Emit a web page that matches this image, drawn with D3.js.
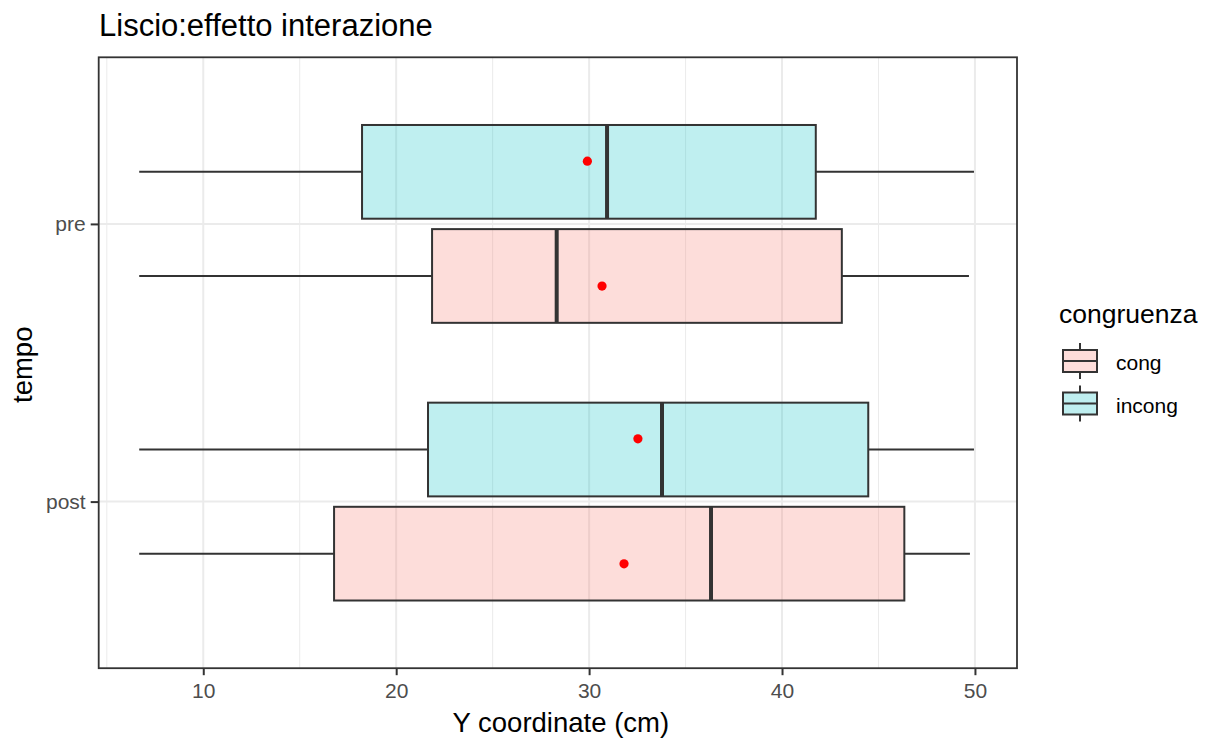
<!DOCTYPE html>
<html>
<head>
<meta charset="utf-8">
<script src="https://cdn.jsdelivr.net/npm/d3@7"></script>
<style>
body{margin:0;background:#fff;font-family:"Liberation Sans",Arial,sans-serif;}
</style>
</head>
<body>
<script>
// data
const tempi=["post","pre"];
const gruppi=["cong","incong"];
const colori=["#F8766D","#00BFC4"];
// [tempo, gruppo, min, q1, mediana, q3, max, media]
const boxes=[
  ["pre","incong",6.68,18.23,30.93,41.75,49.95,29.91],
  ["pre","cong",6.68,21.86,28.32,43.10,49.69,30.67],
  ["post","incong",6.68,21.65,33.78,44.47,49.95,32.53],
  ["post","cong",6.68,16.78,36.32,46.34,49.74,31.81]
];
const xTicks=[10,20,30,40,50];
const xMinor=[5,15,25,35,45];

const W=1207,H=740;
const m={left:98.7,right:1017,top:57.3,bottom:668.2};
const FONT="'Liberation Sans',Arial,sans-serif";

const svg=d3.select("body").append("svg")
  .attr("width",W).attr("height",H)
  .style("font-family",FONT);

const x=d3.scaleLinear().domain([4.58,52.18]).range([m.left,m.right]);
// discrete positions 1..2 with 0.6 expansion, like ggplot
const yPos=d3.scaleLinear().domain([0.4,2.6]).range([m.bottom,m.top]);
const pos=t=>tempi.indexOf(t)+1;
const unit=yPos(1)-yPos(2);
const boxH=0.3375*unit;
const dodge=g=>gruppi.indexOf(g)===0? -0.1875 : 0.1875;
const meanDodge=g=>gruppi.indexOf(g)===0? -0.224 : 0.226;
const fill=d3.scaleOrdinal().domain(gruppi).range(colori);

// grid
const grid=svg.append("g");
grid.selectAll(".minor").data(xMinor).enter().append("line")
  .attr("x1",d=>x(d)).attr("x2",d=>x(d)).attr("y1",m.top).attr("y2",m.bottom)
  .attr("stroke","#EBEBEB").attr("stroke-width",1);
grid.selectAll(".major").data(xTicks).enter().append("line")
  .attr("x1",d=>x(d)).attr("x2",d=>x(d)).attr("y1",m.top).attr("y2",m.bottom)
  .attr("stroke","#EBEBEB").attr("stroke-width",2);
grid.selectAll(".hmaj").data(tempi).enter().append("line")
  .attr("x1",m.left).attr("x2",m.right).attr("y1",d=>yPos(pos(d))).attr("y2",d=>yPos(pos(d)))
  .attr("stroke","#EBEBEB").attr("stroke-width",2);

// boxes
const g=svg.append("g").selectAll("g").data(boxes).enter().append("g")
  .attr("transform",d=>"translate(0,"+yPos(pos(d[0])+dodge(d[1]))+")");
g.append("line").attr("x1",d=>x(d[2])).attr("x2",d=>x(d[3]))
  .attr("stroke","#333").attr("stroke-width",2);
g.append("line").attr("x1",d=>x(d[5])).attr("x2",d=>x(d[6]))
  .attr("stroke","#333").attr("stroke-width",2);
g.append("rect").attr("x",d=>x(d[3])).attr("width",d=>x(d[5])-x(d[3]))
  .attr("y",-boxH/2).attr("height",boxH)
  .attr("fill",d=>fill(d[1])).attr("fill-opacity",0.25)
  .attr("stroke","#333").attr("stroke-width",2);
g.append("line").attr("x1",d=>x(d[4])).attr("x2",d=>x(d[4]))
  .attr("y1",-boxH/2).attr("y2",boxH/2)
  .attr("stroke","#333").attr("stroke-width",4);

// means
svg.append("g").selectAll("circle").data(boxes).enter().append("circle")
  .attr("cx",d=>x(d[7])).attr("cy",d=>yPos(pos(d[0])+meanDodge(d[1])))
  .attr("r",4.6).attr("fill","red");

// panel border
svg.append("rect").attr("x",m.left).attr("y",m.top)
  .attr("width",m.right-m.left).attr("height",m.bottom-m.top)
  .attr("fill","none").attr("stroke","#333").attr("stroke-width",1.8);

// axes
const xAxis=svg.append("g").attr("transform","translate(0,"+m.bottom+")")
  .call(d3.axisBottom(x).tickValues(xTicks).tickSize(7).tickPadding(8));
const yAxis=svg.append("g").attr("transform","translate("+m.left+",0)")
  .call(d3.axisLeft(yPos).tickValues([1,2]).tickFormat(d=>tempi[d-1]).tickSize(8).tickPadding(5));
[xAxis,yAxis].forEach(a=>{
  a.select(".domain").remove();
  a.selectAll(".tick line").attr("stroke","#333").attr("stroke-width",2);
  a.selectAll(".tick text").attr("fill","#4D4D4D").style("font-size","21px")
    .style("font-family",FONT);
});

// titles
svg.append("text").attr("x",99).attr("y",36).text("Liscio:effetto interazione")
  .style("font-size","31px").attr("fill","#000");
svg.append("text").attr("x",(m.left+m.right)/2+3).attr("y",732).attr("text-anchor","middle")
  .text("Y coordinate (cm)").style("font-size","27.5px");
svg.append("text").attr("transform","translate(32,"+((m.top+m.bottom)/2+2)+") rotate(-90)")
  .attr("text-anchor","middle").text("tempo").style("font-size","27.5px");

// legend
const leg=svg.append("g");
leg.append("text").attr("x",1059).attr("y",323).text("congruenza").style("font-size","26.5px");
const li=leg.selectAll(".k").data(gruppi).enter().append("g")
  .attr("transform",(d,i)=>"translate(1080,"+(361+i*42.5)+")");
li.append("line").attr("y1",-18).attr("y2",18).attr("stroke","#333").attr("stroke-width",2);
li.append("rect").attr("x",-17).attr("y",-11).attr("width",34).attr("height",22)
  .attr("fill","#fff").attr("stroke","none");
li.append("rect").attr("x",-17).attr("y",-11).attr("width",34).attr("height",22)
  .attr("fill",d=>fill(d)).attr("fill-opacity",0.25).attr("stroke","#333").attr("stroke-width",2);
li.append("line").attr("x1",-17).attr("x2",17).attr("stroke","#333").attr("stroke-width",2);
li.append("text").attr("x",36).attr("y",9).text(d=>d).style("font-size","21px");
</script>
</body>
</html>
